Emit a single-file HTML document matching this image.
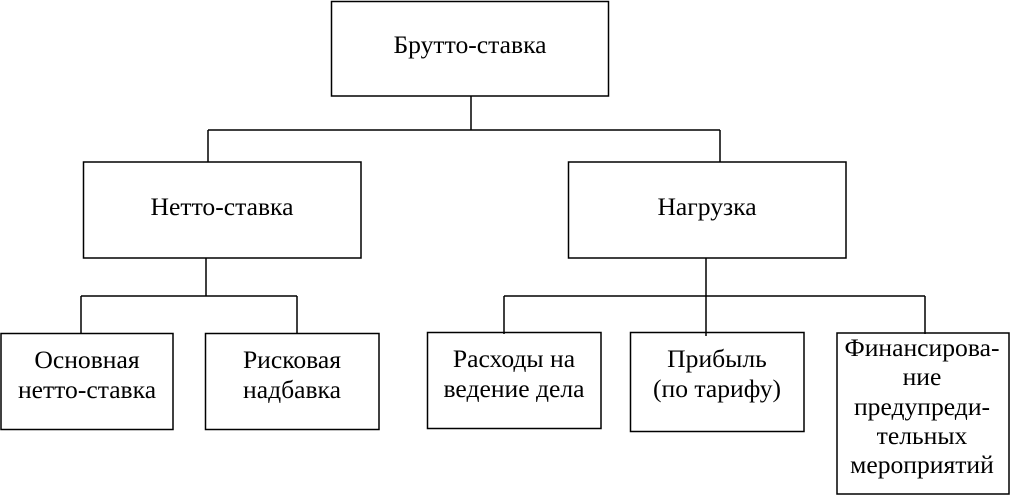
<!DOCTYPE html>
<html><head><meta charset="utf-8"><style>
body{margin:0;background:#fff;width:1010px;height:495px;overflow:hidden}
svg text{font-family:"Liberation Serif",serif;font-size:25.6px;fill:#000;text-anchor:middle}
</style></head><body>
<svg width="1010" height="495" viewBox="0 0 1010 495">
<g fill="none" stroke="#000" stroke-width="1.5">
<rect x="331.5" y="1.5" width="277" height="94.5"/>
<rect x="83.5" y="162" width="277.5" height="96"/>
<rect x="568.5" y="162" width="277.5" height="96"/>
<rect x="1" y="333.5" width="172" height="96"/>
<rect x="205.5" y="333.5" width="173.5" height="96"/>
<rect x="427.5" y="332.5" width="173.5" height="96"/>
<rect x="630.5" y="332.5" width="173.5" height="99"/>
<rect x="837" y="333" width="172" height="161"/>
<path d="M471 96V130M208 130H720M208 130V162M720 130V162"/>
<path d="M206 258V296M81 296H297M81 296V334M297 296V334"/>
<path d="M706 258V336M504 296H925M504 296V334M925 296V334"/>
</g>
<text x="470" y="53">Брутто-ставка</text>
<text x="222" y="215">Нетто-ставка</text>
<text x="707" y="215">Нагрузка</text>
<text x="87" y="368">Основная</text>
<text x="87" y="398">нетто-ставка</text>
<text x="292" y="368">Рисковая</text>
<text x="292" y="398">надбавка</text>
<text x="514" y="367">Расходы на</text>
<text x="514" y="397">ведение дела</text>
<text x="717" y="367">Прибыль</text>
<text x="717" y="397">(по тарифу)</text>
<text x="922" y="356">Финансирова-</text>
<text x="922" y="385">ние</text>
<text x="922" y="415">предупреди-</text>
<text x="922" y="444">тельных</text>
<text x="922" y="473">мероприятий</text>
</svg>
</body></html>
